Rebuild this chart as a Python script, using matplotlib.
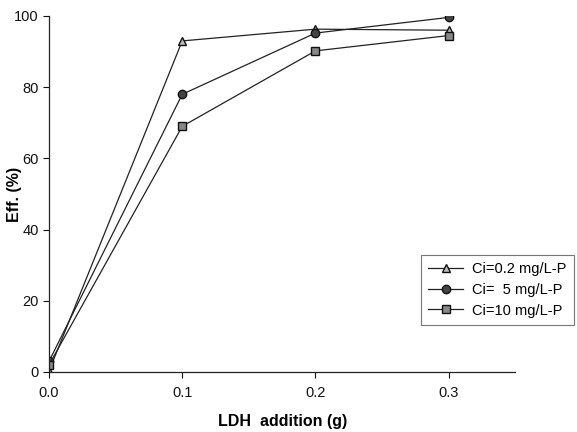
import matplotlib.pyplot as plt

plt.rcParams['font.family'] = ['Liberation Sans', 'DejaVu Sans']

# data
ldh = [0.0, 0.1, 0.2, 0.3]
eff_02 = [0.3, 93.0, 96.3, 96.0]
eff_5 = [3.0, 78.0, 95.2, 99.6]
eff_10 = [2.0, 69.0, 90.2, 94.5]
labels = ['Ci=0.2 mg/L-P', 'Ci=  5 mg/L-P', 'Ci=10 mg/L-P']
xticks = [0.0, 0.1, 0.2, 0.3]
yticks = [0, 20, 40, 60, 80, 100]

fig = plt.figure(figsize=(5.77, 4.32), dpi=100)
ax = fig.add_axes([0.085, 0.139, 0.808, 0.824])

ax.plot(ldh, eff_02, '-', color='#222222', lw=0.9, marker='^', ms=6,
        mfc='#bbbbbb', mec='#111111', label=labels[0])
ax.plot(ldh, eff_5, '-', color='#222222', lw=0.9, marker='o', ms=6,
        mfc='#444444', mec='#111111', label=labels[1])
ax.plot(ldh, eff_10, '-', color='#222222', lw=0.9, marker='s', ms=5.5,
        mfc='#888888', mec='#111111', label=labels[2])

ax.set_xlim(0, 0.35)
ax.set_ylim(0, 100)
ax.set_xticks(xticks)
ax.set_xticklabels(['%.1f' % v for v in xticks])
ax.set_yticks(yticks)
ax.tick_params(direction='out', length=4, width=0.8, labelsize=10.5, colors='#111111')
ax.tick_params(axis='x', pad=6)
for s in ['top', 'right']:
    ax.spines[s].set_visible(False)
for s in ['left', 'bottom']:
    ax.spines[s].set_linewidth(0.9)
    ax.spines[s].set_color('#222222')

ax.set_xlabel('LDH  addition (g)', fontsize=11.5, fontweight='bold', labelpad=10)
ax.set_ylabel('Eff. (%)', fontsize=11.5, fontweight='bold')
ax.yaxis.set_label_coords(-0.058, 0.5)

leg = fig.legend(loc='lower right', bbox_to_anchor=(0.994, 0.248), fontsize=10.5,
                 frameon=True, fancybox=False, edgecolor='#555555',
                 handlelength=2.4, handletextpad=0.6, borderpad=0.5,
                 labelspacing=0.45, borderaxespad=0)
leg.get_frame().set_linewidth(0.8)

fig.savefig('out.png', dpi=100)
